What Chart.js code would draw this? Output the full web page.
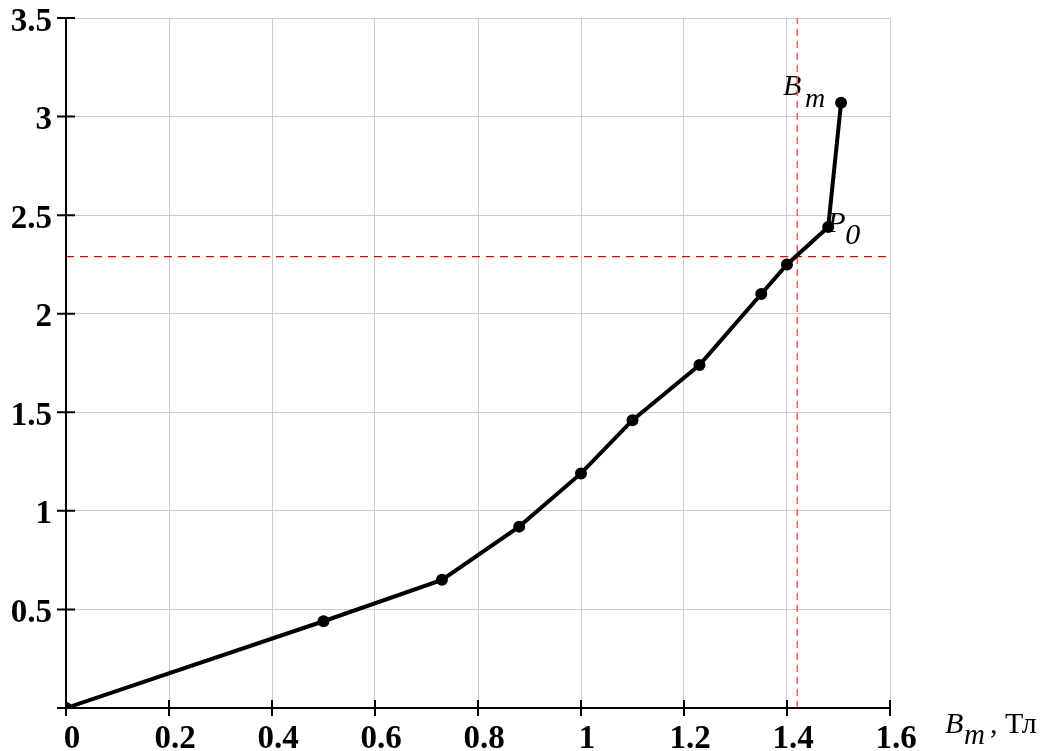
<!DOCTYPE html>
<html>
<head>
<meta charset="utf-8">
<script src="https://cdn.jsdelivr.net/npm/chart.js@4.4.0/dist/chart.umd.min.js"></script>
<style>
  body { margin: 0; background: #fff; }
  canvas { display: block; }
</style>
</head>
<body>
<canvas id="myChart" width="1051" height="751"></canvas>
<script>
// magnetization curve points
const bmValues = [0, 0.5, 0.73, 0.88, 1.0, 1.1, 1.23, 1.35, 1.4, 1.48, 1.505];
const pValues = [0, 0.44, 0.65, 0.92, 1.19, 1.46, 1.74, 2.1, 2.25, 2.44, 3.07];

// reference lines
const bmRef = 1.42;
const pRef = 2.29;

const xTicks = [0, 0.2, 0.4, 0.6, 0.8, 1, 1.2, 1.4, 1.6];
const yTicks = [0, 0.5, 1, 1.5, 2, 2.5, 3, 3.5];

const serif = '"Liberation Serif", "Times New Roman", serif';

let ctx = document.getElementById('myChart').getContext('2d');

let curve = bmValues.map((b, i) => ({ x: b, y: pValues[i] }));

// axes with ticks crossing the line, plus text labels
let axesPlugin = {
    id: 'axesPlugin',
    beforeDatasetsDraw(chart) {
        let c = chart.ctx;
        let xs = chart.scales.x, ys = chart.scales.y;
        c.save();
        c.fillStyle = '#000';
        c.textBaseline = 'alphabetic';
        // B_m label near the last point
        let last = curve[curve.length - 1];
        let px = xs.getPixelForValue(last.x), py = ys.getPixelForValue(last.y);
        c.font = 'italic 30px ' + serif;
        c.fillText('B', px - 58, py - 8);
        c.font = 'italic 28px ' + serif;
        c.fillText('m', px - 36, py + 4);
        // P_0 label near the point before
        let p0 = curve[curve.length - 2];
        px = xs.getPixelForValue(p0.x); py = ys.getPixelForValue(p0.y);
        c.font = 'italic 30px ' + serif;
        c.fillText('P', px - 1, py + 5);
        c.fillText('0', px + 17, py + 17);
        c.restore();
    },
    afterDraw(chart) {
        let c = chart.ctx;
        let xs = chart.scales.x, ys = chart.scales.y;
        let area = chart.chartArea;
        c.save();
        c.strokeStyle = '#000';
        c.lineWidth = 2;
        c.beginPath();
        c.moveTo(area.left, area.top);
        c.lineTo(area.left, area.bottom + 5);
        c.moveTo(area.left - 9, area.bottom);
        c.lineTo(area.right, area.bottom);
        xTicks.forEach(v => {
            let x = xs.getPixelForValue(v);
            c.moveTo(x, area.bottom - 8);
            c.lineTo(x, area.bottom + 8);
        });
        yTicks.forEach(v => {
            let y = ys.getPixelForValue(v);
            c.moveTo(area.left - 9, y);
            c.lineTo(area.left + 9, y);
        });
        c.stroke();

        // axis title
        c.fillStyle = '#000';
        c.textBaseline = 'alphabetic';
        let tx = area.right + 55, ty = area.bottom + 25;
        c.font = 'italic 30px ' + serif;
        c.fillText('B', tx, ty);
        c.font = 'italic 29px ' + serif;
        c.fillText('m', tx + 19, ty + 11);
        c.font = '30px ' + serif;
        c.fillText(', Тл', tx + 45, ty);
        c.restore();
    }
};

let data = {
    datasets: [
        {
            data: [{ x: bmRef, y: 0 }, { x: bmRef, y: 3.5 }],
            borderColor: '#ff5a5a',
            borderWidth: 1.5,
            borderDash: [7, 5],
            pointRadius: 0,
            order: 2
        },
        {
            data: [{ x: 0, y: pRef }, { x: 1.6, y: pRef }],
            borderColor: '#e00000',
            borderWidth: 1.2,
            borderDash: [8, 6],
            pointRadius: 0,
            order: 2
        },
        {
            data: curve,
            borderColor: '#000',
            backgroundColor: '#000',
            borderWidth: 4,
            pointRadius: 6,
            pointBackgroundColor: '#000',
            pointBorderWidth: 0,
            order: 1
        }
    ]
};

let options = {
    responsive: false,
    animation: false,
    layout: { padding: { left: 0, top: 18, right: 161, bottom: 0 } },
    plugins: {
        legend: { display: false },
        tooltip: { enabled: false }
    },
    scales: {
        x: {
            type: 'linear',
            min: 0,
            max: 1.6,
            afterBuildTicks: s => { s.ticks = xTicks.map(v => ({ value: v })); },
            afterFit: s => { s.height = 43; s.paddingLeft = 0; s.paddingRight = 0; },
            border: { display: false },
            grid: { color: '#cccccc', lineWidth: 1, drawTicks: false },
            ticks: {
                color: '#000',
                font: { family: serif, size: 33, weight: 'bold' },
                padding: 12,
                labelOffset: 6,
                maxRotation: 0,
                callback: v => String(v)
            }
        },
        y: {
            type: 'linear',
            min: 0,
            max: 3.5,
            afterBuildTicks: s => { s.ticks = yTicks.map(v => ({ value: v })); },
            afterFit: s => { s.width = 66; s.paddingTop = 0; s.paddingBottom = 0; },
            border: { display: false },
            grid: { color: '#cccccc', lineWidth: 1, drawTicks: false },
            ticks: {
                color: '#000',
                font: { family: serif, size: 33, weight: 'bold' },
                padding: 14,
                labelOffset: 4,
                callback: v => v === 0 ? '' : String(v)
            }
        }
    }
};

let myChart = new Chart(ctx, {
    type: 'line',
    data: data,
    options: options,
    plugins: [axesPlugin]
});
</script>
</body>
</html>
